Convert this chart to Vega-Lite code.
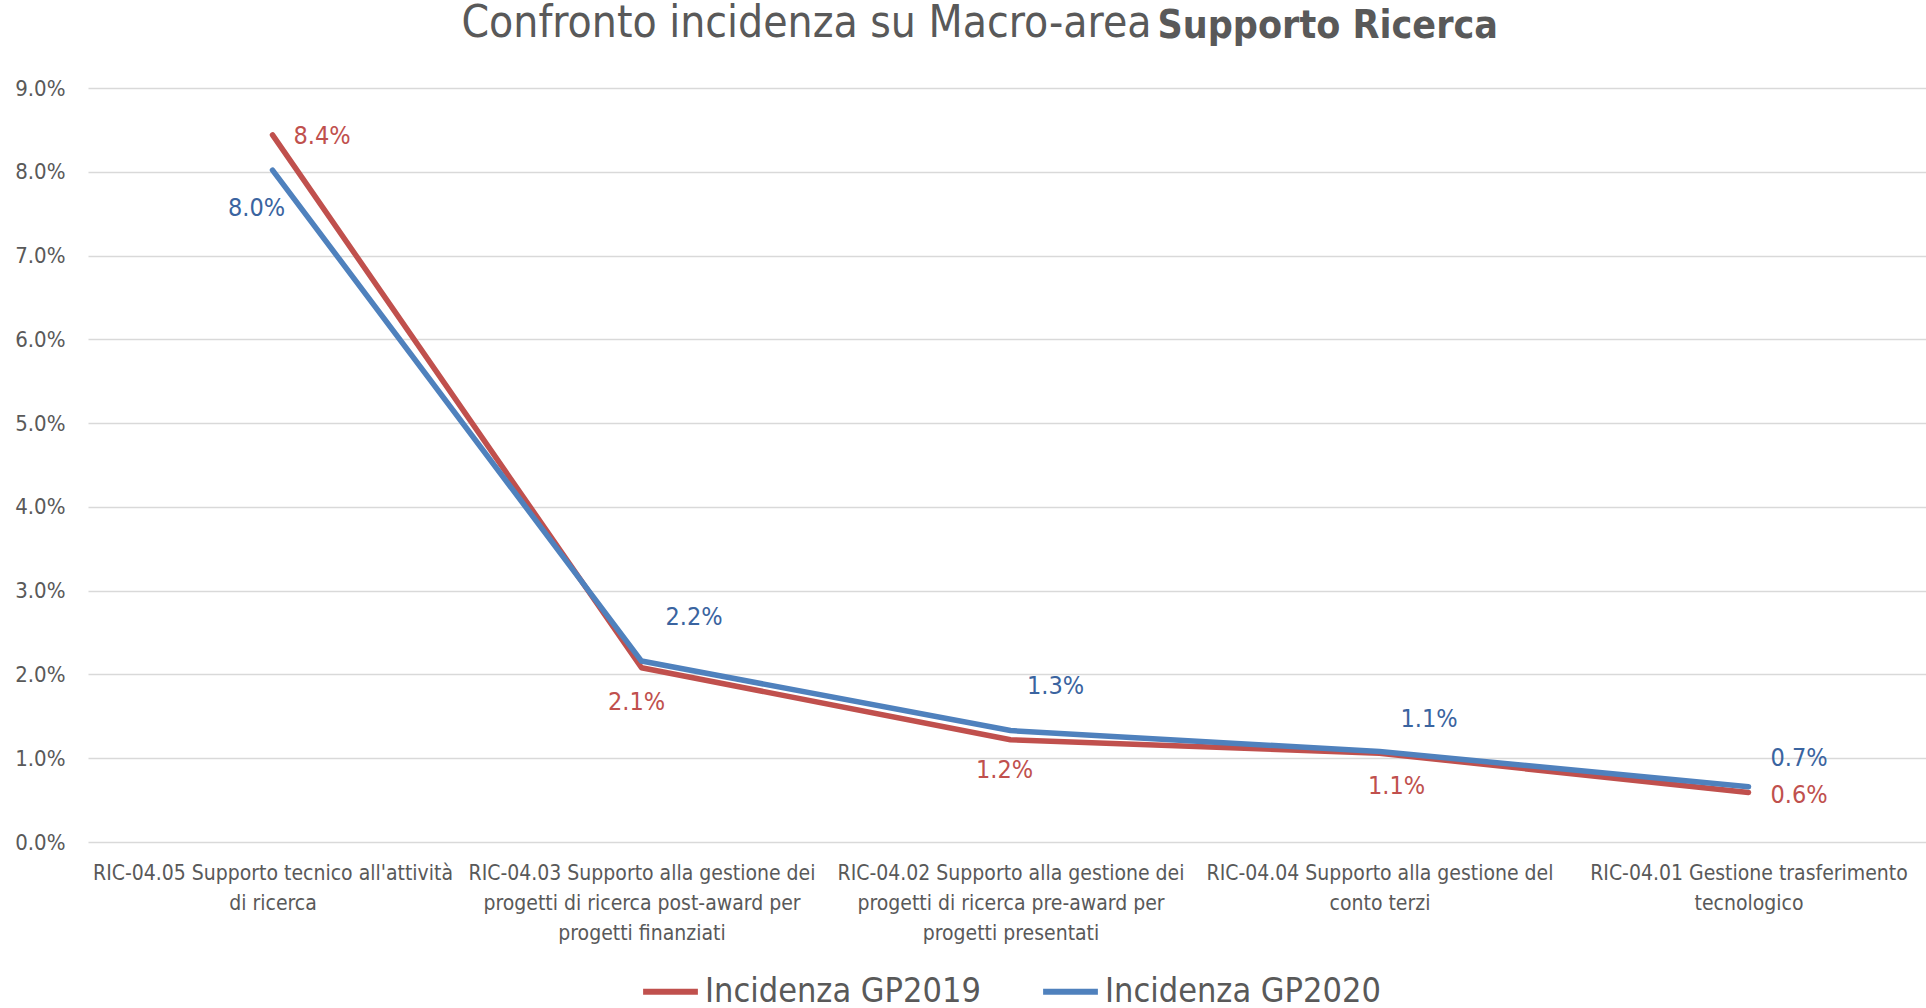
{
  "$schema": "https://vega.github.io/schema/vega-lite/v6.json",
  "background": "white",
  "padding": {"left": 14, "top": 2, "right": 0, "bottom": 0},
  "autosize": {"type": "pad"},
  "title": {
    "text": "Confronto incidenza su Macro-area",
    "fontSize": 44, "fontWeight": "normal", "color": "#595959",
    "anchor": "middle", "frame": "group", "align": "right", "baseline": "alphabetic",
    "dx": 141, "dy": 78
  },
  "vconcat": [
    {
      "title": {
        "text": "Supporto Ricerca",
        "fontSize": 39, "fontWeight": "bold", "color": "#595959",
        "anchor": "middle", "frame": "group", "align": "left", "baseline": "alphabetic",
        "dx": 147, "offset": 0
      },
      "width": 1845,
      "height": 754,
      "data": {
        "values": [
          {"cat": "RIC-04.05 Supporto tecnico all'attività di ricerca", "series": "Incidenza GP2019", "value": 0.0844},
          {"cat": "RIC-04.03 Supporto alla gestione dei progetti di ricerca post-award per progetti finanziati", "series": "Incidenza GP2019", "value": 0.0208},
          {"cat": "RIC-04.02 Supporto alla gestione dei progetti di ricerca pre-award per progetti presentati", "series": "Incidenza GP2019", "value": 0.0122},
          {"cat": "RIC-04.04 Supporto alla gestione del conto terzi", "series": "Incidenza GP2019", "value": 0.0106},
          {"cat": "RIC-04.01 Gestione trasferimento tecnologico", "series": "Incidenza GP2019", "value": 0.0059},
          {"cat": "RIC-04.05 Supporto tecnico all'attività di ricerca", "series": "Incidenza GP2020", "value": 0.0802},
          {"cat": "RIC-04.03 Supporto alla gestione dei progetti di ricerca post-award per progetti finanziati", "series": "Incidenza GP2020", "value": 0.0216},
          {"cat": "RIC-04.02 Supporto alla gestione dei progetti di ricerca pre-award per progetti presentati", "series": "Incidenza GP2020", "value": 0.0133},
          {"cat": "RIC-04.04 Supporto alla gestione del conto terzi", "series": "Incidenza GP2020", "value": 0.0108},
          {"cat": "RIC-04.01 Gestione trasferimento tecnologico", "series": "Incidenza GP2020", "value": 0.0066}
        ]
      },
      "encoding": {
        "x": {
          "field": "cat", "type": "nominal",
          "sort": [
            "RIC-04.05 Supporto tecnico all'attività di ricerca",
            "RIC-04.03 Supporto alla gestione dei progetti di ricerca post-award per progetti finanziati",
            "RIC-04.02 Supporto alla gestione dei progetti di ricerca pre-award per progetti presentati",
            "RIC-04.04 Supporto alla gestione del conto terzi",
            "RIC-04.01 Gestione trasferimento tecnologico"
          ],
          "scale": {"type": "point", "padding": 0.5},
          "axis": {
            "title": null, "labelAngle": 0, "domain": false, "ticks": false,
            "labelFontSize": 21, "labelColor": "#595959", "labelPadding": 20, "labelLimit": 0,
            "labelLineHeight": 30,
            "labelExpr": "indexof(datum.value,'04.05')>=0 ? [\"RIC-04.05 Supporto tecnico all'attività\",'di ricerca'] : indexof(datum.value,'04.03')>=0 ? ['RIC-04.03 Supporto alla gestione dei','progetti di ricerca post-award per','progetti finanziati'] : indexof(datum.value,'04.02')>=0 ? ['RIC-04.02 Supporto alla gestione dei','progetti di ricerca pre-award per','progetti presentati'] : indexof(datum.value,'04.04')>=0 ? ['RIC-04.04 Supporto alla gestione del','conto terzi'] : ['RIC-04.01 Gestione trasferimento','tecnologico']"
          }
        },
        "y": {
          "field": "value", "type": "quantitative",
          "scale": {"domain": [0, 0.09], "nice": false},
          "axis": {
            "title": null, "format": ".1%", "values": [0, 0.01, 0.02, 0.03, 0.04, 0.05, 0.06, 0.07, 0.08, 0.09],
            "domain": false, "ticks": false, "labelFontSize": 22, "labelColor": "#595959", "labelPadding": 23,
            "gridColor": "#D9D9D9", "gridWidth": 1.5
          }
        }
      },
      "layer": [
        {
          "mark": {"type": "line", "strokeWidth": 5.5, "strokeCap": "round", "strokeJoin": "round"},
          "encoding": {
            "color": {
              "field": "series", "type": "nominal",
              "scale": {"domain": ["Incidenza GP2019", "Incidenza GP2020"], "range": ["#C0504D", "#4F81BD"]},
              "legend": {
                "title": null, "orient": "bottom", "direction": "horizontal",
                "symbolType": "stroke", "symbolStrokeWidth": 6, "symbolSize": 3000,
                "labelFontSize": 34, "labelColor": "#595959", "labelOffset": 4, "labelLimit": 0,
                "columnPadding": 50, "offset": 18
              }
            }
          }
        },
        {"transform": [{"filter": "indexof(datum.cat,'04.05')>=0 && datum.series=='Incidenza GP2019'"}], "mark": {"type": "text", "align": "left", "baseline": "middle", "dx": 21, "dy": 1, "fontSize": 25, "color": "#C0504D"}, "encoding": {"text": {"field": "value", "format": ".1%"}}},
        {"transform": [{"filter": "indexof(datum.cat,'04.03')>=0 && datum.series=='Incidenza GP2019'"}], "mark": {"type": "text", "align": "center", "baseline": "middle", "dx": -5, "dy": 34, "fontSize": 25, "color": "#C0504D"}, "encoding": {"text": {"field": "value", "format": ".1%"}}},
        {"transform": [{"filter": "indexof(datum.cat,'04.02')>=0 && datum.series=='Incidenza GP2019'"}], "mark": {"type": "text", "align": "center", "baseline": "middle", "dx": -6, "dy": 30, "fontSize": 25, "color": "#C0504D"}, "encoding": {"text": {"field": "value", "format": ".1%"}}},
        {"transform": [{"filter": "indexof(datum.cat,'04.04')>=0 && datum.series=='Incidenza GP2019'"}], "mark": {"type": "text", "align": "center", "baseline": "middle", "dx": 17, "dy": 33, "fontSize": 25, "color": "#C0504D"}, "encoding": {"text": {"field": "value", "format": ".1%"}}},
        {"transform": [{"filter": "indexof(datum.cat,'04.01')>=0 && datum.series=='Incidenza GP2019'"}], "mark": {"type": "text", "align": "left", "baseline": "middle", "dx": 22, "dy": 2, "fontSize": 25, "color": "#C0504D"}, "encoding": {"text": {"field": "value", "format": ".1%"}}},
        {"transform": [{"filter": "indexof(datum.cat,'04.05')>=0 && datum.series=='Incidenza GP2020'"}], "mark": {"type": "text", "align": "center", "baseline": "middle", "dx": -16, "dy": 38, "fontSize": 25, "color": "#3A64A0"}, "encoding": {"text": {"field": "value", "format": ".1%"}}},
        {"transform": [{"filter": "indexof(datum.cat,'04.03')>=0 && datum.series=='Incidenza GP2020'"}], "mark": {"type": "text", "align": "left", "baseline": "middle", "dx": 24, "dy": -44, "fontSize": 25, "color": "#3A64A0"}, "encoding": {"text": {"field": "value", "format": ".1%"}}},
        {"transform": [{"filter": "indexof(datum.cat,'04.02')>=0 && datum.series=='Incidenza GP2020'"}], "mark": {"type": "text", "align": "center", "baseline": "middle", "dx": 45, "dy": -45, "fontSize": 25, "color": "#3A64A0"}, "encoding": {"text": {"field": "value", "format": ".1%"}}},
        {"transform": [{"filter": "indexof(datum.cat,'04.04')>=0 && datum.series=='Incidenza GP2020'"}], "mark": {"type": "text", "align": "left", "baseline": "middle", "dx": 21, "dy": -33, "fontSize": 25, "color": "#3A64A0"}, "encoding": {"text": {"field": "value", "format": ".1%"}}},
        {"transform": [{"filter": "indexof(datum.cat,'04.01')>=0 && datum.series=='Incidenza GP2020'"}], "mark": {"type": "text", "align": "left", "baseline": "middle", "dx": 22, "dy": -29, "fontSize": 25, "color": "#3A64A0"}, "encoding": {"text": {"field": "value", "format": ".1%"}}}
      ]
    }
  ],
  "config": {
    "font": "Liberation Sans Narrow, DejaVu Sans Condensed, Liberation Sans",
    "view": {"stroke": null},
    "concat": {"spacing": 0},
    "legend": {"layout": {"bottom": {"anchor": "middle"}}}
  }
}
